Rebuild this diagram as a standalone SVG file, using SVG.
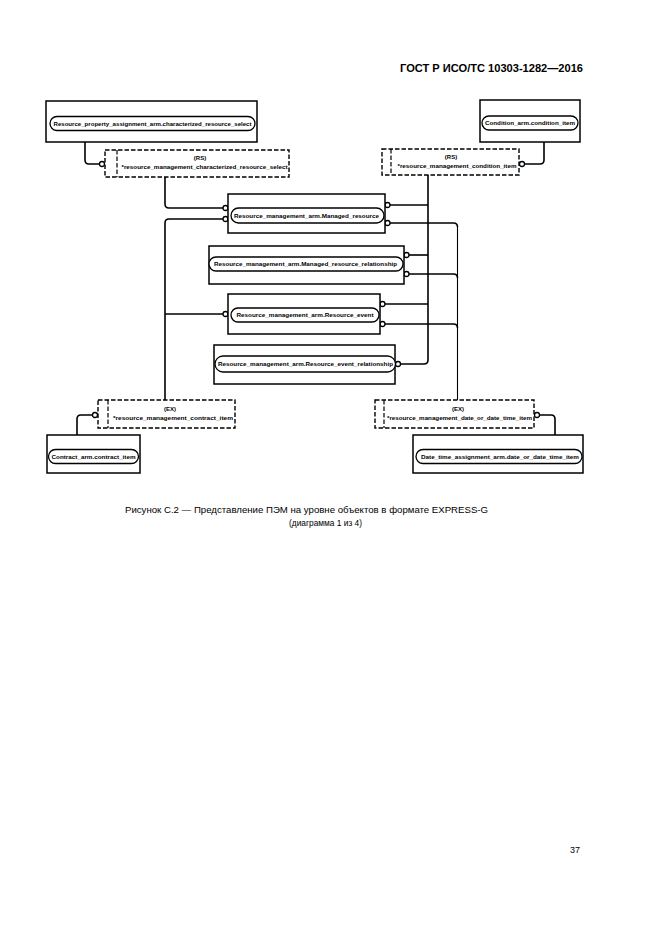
<svg xmlns="http://www.w3.org/2000/svg" width="661" height="935" viewBox="0 0 661 935">
<style>
.bg{fill:#fff}
.box{fill:#fff;stroke:#000;stroke-width:1.5}
.pill{fill:#fff;stroke:#000;stroke-width:1.3}
.dash{fill:#fff;stroke:#000;stroke-width:1.4;stroke-dasharray:4.5 2}
.dl{fill:none;stroke:#000;stroke-width:1.2;stroke-dasharray:4.5 2}
.ln{fill:none;stroke:#000;stroke-width:1.6}
.thin{fill:none;stroke:#000;stroke-width:1.1}
.c{fill:#fff;stroke:#000;stroke-width:1.3}
.t{font-family:"Liberation Sans",Arial,sans-serif;font-size:6px;font-weight:bold;fill:#000}
.m{text-anchor:middle}
.cap{font-family:"Liberation Sans",Arial,sans-serif;font-size:9px;fill:#000}
.hdr{font-family:"Liberation Sans",Arial,sans-serif;font-size:11px;font-weight:bold;fill:#000}
</style>
<rect class="bg" x="0" y="0" width="661" height="935"/>
<text class="hdr" x="400" y="72" textLength="183" lengthAdjust="spacingAndGlyphs">ГОСТ Р ИСО/ТС 10303-1282—2016</text>

<g id="connectors">
  <path class="ln" d="M85,142 V160 Q85,164 89,164 H99.5"/>
  <path class="ln" d="M165,177 V204 Q165,208 169,208 H223"/>
  <path class="ln" d="M223,219 H169 Q165,219 165,223 V400"/>
  <path class="ln" d="M165,314 H223"/>
  <path class="ln" d="M544,142 V160 Q544,164 540,164 H524.5"/>
  <path class="ln" d="M428,175 V360 Q428,364 424,364 H400.5"/>
  <path class="ln" d="M390,205 H428"/>
  <path class="ln" d="M409,255 H428"/>
  <path class="ln" d="M385,304 H428"/>
  <path class="ln" d="M390,223 H453.5 Q457.5,223 457.5,227"/>
  <path class="ln" d="M409,274 H453.5 Q457.5,274 457.5,278"/>
  <path class="ln" d="M385,324 H453.5 Q457.5,324 457.5,328"/>
  <path class="thin" d="M457.5,226 V400"/>
  <path class="ln" d="M92.5,415 H81 Q77,415 77,419 V435"/>
  <path class="ln" d="M539.5,415 H551 Q555,415 555,419 V435"/>
  <circle class="c" cx="102" cy="164" r="2.5"/>
  <circle class="c" cx="522" cy="164" r="2.5"/>
  <circle class="c" cx="225.5" cy="208" r="2.5"/>
  <circle class="c" cx="225.5" cy="219" r="2.5"/>
  <circle class="c" cx="225.5" cy="314" r="2.5"/>
  <circle class="c" cx="387.5" cy="205" r="2.5"/>
  <circle class="c" cx="387.5" cy="223" r="2.5"/>
  <circle class="c" cx="406.5" cy="255" r="2.5"/>
  <circle class="c" cx="406.5" cy="274" r="2.5"/>
  <circle class="c" cx="382.5" cy="304" r="2.5"/>
  <circle class="c" cx="382.5" cy="324" r="2.5"/>
  <circle class="c" cx="398" cy="364" r="2.5"/>
  <circle class="c" cx="95" cy="415" r="2.5"/>
  <circle class="c" cx="537" cy="415" r="2.5"/>
</g>

<g id="rpa_characterized_resource_select">
  <rect class="box" x="46" y="101" width="211" height="41"/>
  <rect class="pill" x="50" y="116.5" width="205" height="14" rx="7" ry="7"/>
  <text class="t m" x="152.5" y="125.7" textLength="198" lengthAdjust="spacingAndGlyphs">Resource_property_assignment_arm.characterized_resource_select</text>
</g>

<g id="condition_item">
  <rect class="box" x="480" y="100" width="100" height="42"/>
  <rect class="pill" x="482" y="116" width="96" height="14" rx="7" ry="7"/>
  <text class="t m" x="530" y="125.2" textLength="90" lengthAdjust="spacingAndGlyphs">Condition_arm.condition_item</text>
</g>

<g id="rm_characterized_resource_select">
  <rect class="dash" x="105" y="150" width="184" height="27"/>
  <line class="dl" x1="117" y1="150" x2="117" y2="177"/>
  <text class="t m" x="200" y="159.5">(RS)</text>
  <text class="t m" x="204.5" y="168.5" textLength="166" lengthAdjust="spacingAndGlyphs">*resource_management_characterized_resource_select</text>
</g>

<g id="rm_condition_item">
  <rect class="dash" x="382" y="149" width="137" height="26"/>
  <line class="dl" x1="391" y1="149" x2="391" y2="175"/>
  <text class="t m" x="451" y="158.5">(RS)</text>
  <text class="t m" x="457" y="167.5" textLength="119" lengthAdjust="spacingAndGlyphs">*resource_management_condition_item</text>
</g>

<g id="managed_resource">
  <rect class="box" x="228" y="194" width="157" height="39"/>
  <rect class="pill" x="231" y="208" width="153" height="15" rx="7.5" ry="7.5"/>
  <text class="t m" x="306.5" y="217.7" textLength="145" lengthAdjust="spacingAndGlyphs">Resource_management_arm.Managed_resource</text>
</g>

<g id="managed_resource_relationship">
  <rect class="box" x="209" y="246" width="195" height="38"/>
  <rect class="pill" x="209" y="257" width="194" height="14" rx="7" ry="7"/>
  <text class="t m" x="305.5" y="266.2" textLength="183" lengthAdjust="spacingAndGlyphs">Resource_management_arm.Managed_resource_relationship</text>
</g>

<g id="resource_event">
  <rect class="box" x="228" y="294" width="152" height="40"/>
  <rect class="pill" x="231" y="308" width="148" height="14" rx="7" ry="7"/>
  <text class="t m" x="305" y="317.2" textLength="137" lengthAdjust="spacingAndGlyphs">Resource_management_arm.Resource_event</text>
</g>

<g id="resource_event_relationship">
  <rect class="box" x="214" y="345" width="181" height="39"/>
  <rect class="pill" x="215" y="356" width="180.5" height="16" rx="8" ry="8"/>
  <text class="t m" x="305.5" y="366.2" textLength="175" lengthAdjust="spacingAndGlyphs">Resource_management_arm.Resource_event_relationship</text>
</g>

<g id="rm_contract_item">
  <rect class="dash" x="98" y="400" width="137" height="28"/>
  <line class="dl" x1="108" y1="400" x2="108" y2="428"/>
  <text class="t m" x="170" y="411">(EX)</text>
  <text class="t m" x="173" y="420.3" textLength="120" lengthAdjust="spacingAndGlyphs">*resource_management_contract_item</text>
</g>

<g id="rm_date_or_date_time_item">
  <rect class="dash" x="375" y="400" width="159" height="28"/>
  <line class="dl" x1="384" y1="400" x2="384" y2="428"/>
  <text class="t m" x="458" y="411">(EX)</text>
  <text class="t m" x="459.5" y="420.3" textLength="145" lengthAdjust="spacingAndGlyphs">*resource_management_date_or_date_time_item</text>
</g>

<g id="contract_item">
  <rect class="box" x="47" y="435" width="93" height="38"/>
  <rect class="pill" x="48.5" y="449.5" width="90" height="14" rx="7" ry="7"/>
  <text class="t m" x="93.5" y="458.7" textLength="84" lengthAdjust="spacingAndGlyphs">Contract_arm.contract_item</text>
</g>

<g id="date_or_date_time_item">
  <rect class="box" x="413" y="435" width="170" height="38"/>
  <rect class="pill" x="416" y="449.5" width="166" height="14" rx="7" ry="7"/>
  <text class="t m" x="500" y="458.7" textLength="158" lengthAdjust="spacingAndGlyphs">Date_time_assignment_arm.date_or_date_time_item</text>
</g>

<text class="cap" x="125" y="513" textLength="363" lengthAdjust="spacingAndGlyphs">Рисунок С.2 — Представление ПЭМ на уровне объектов в формате EXPRESS-G</text>
<text class="cap" x="289" y="526" textLength="73" lengthAdjust="spacingAndGlyphs">(диаграмма 1 из 4)</text>
<text class="cap" x="570" y="853">37</text>
</svg>
